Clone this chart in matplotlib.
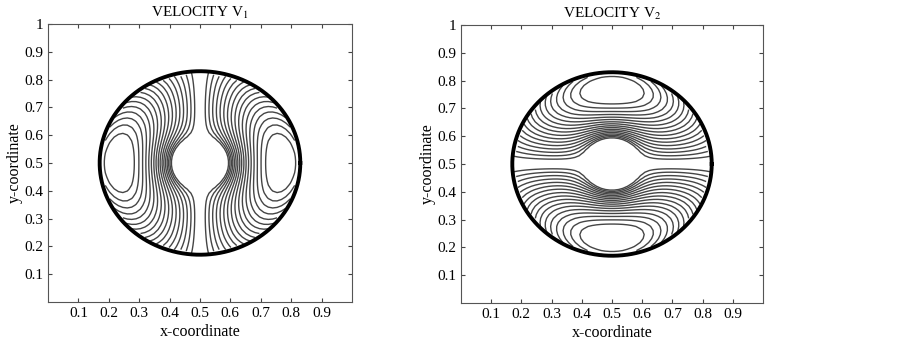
import numpy as np
import matplotlib.pyplot as plt

plt.rcParams['font.family'] = ['Liberation Serif', 'DejaVu Serif']
plt.rcParams['mathtext.fontset'] = 'stix'

# domain: annulus centred at (0.5, 0.5)
center = [0.5, 0.5]
r_outer = 0.33
r_inner = 0.088
r_decay = 0.43
level_fracs = np.linspace(0.075, 0.92, 17)
grid_n = 70

titles = ['VELOCITY V$_{\\rm 1}$', 'VELOCITY V$_{\\rm 2}$']
xticks = [0.1, 0.2, 0.3, 0.4, 0.5, 0.6, 0.7, 0.8, 0.9]
yticks = [0.1, 0.2, 0.3, 0.4, 0.5, 0.6, 0.7, 0.8, 0.9, 1.0]
xticklabels = ['0.1', '0.2', '0.3', '0.4', '0.5', '0.6', '0.7', '0.8', '0.9']
yticklabels = ['0.1', '0.2', '0.3', '0.4', '0.5', '0.6', '0.7', '0.8', '0.9', '1']

g = np.linspace(0, 1, grid_n)
X, Y = np.meshgrid(g, g)
dx = X - center[0]
dy = Y - center[1]
r = np.sqrt(dx**2 + dy**2)
r_safe = np.where(r == 0, 1e-6, r)
shape = (1 - r_inner**2 / r_safe**2) * (1 - r_safe**2 / r_decay**2)
outside = r > r_outer
V1 = np.ma.masked_where(outside, np.abs(dx) * shape)
V2 = np.ma.masked_where(outside, np.abs(dy) * shape)

fig = plt.figure(figsize=(9.02, 3.42), dpi=100)
axes = [fig.add_axes([0.0532, 0.117, 0.337, 0.813]),
        fig.add_axes([0.511, 0.114, 0.335, 0.813])]

t = np.linspace(0, 2 * np.pi, 400)
for ax, field, title in zip(axes, [V1, V2], titles):
    vmax = field.max()
    ax.contour(X, Y, field, levels=level_fracs * vmax, colors='#454545',
               linewidths=1.0)
    ax.plot(center[0] + r_outer * np.cos(t), center[1] + r_outer * np.sin(t),
            color='black', lw=2.8)
    ax.set_xlim(0, 1)
    ax.set_ylim(0, 1)
    ax.set_xticks(xticks)
    ax.set_xticklabels(xticklabels)
    ax.set_yticks(yticks)
    ax.set_yticklabels(yticklabels)
    ax.tick_params(direction='in', top=True, right=True, labelsize=11,
                   length=3, color='#444444')
    for s in ax.spines.values():
        s.set_color('#555555')
    ax.set_title(title, fontsize=11, pad=5)
    ax.set_xlabel('x-coordinate', fontsize=11.5, labelpad=3)
    ax.set_ylabel('y-coordinate', fontsize=11.5, labelpad=1)

fig.savefig('out.png', dpi=100)
